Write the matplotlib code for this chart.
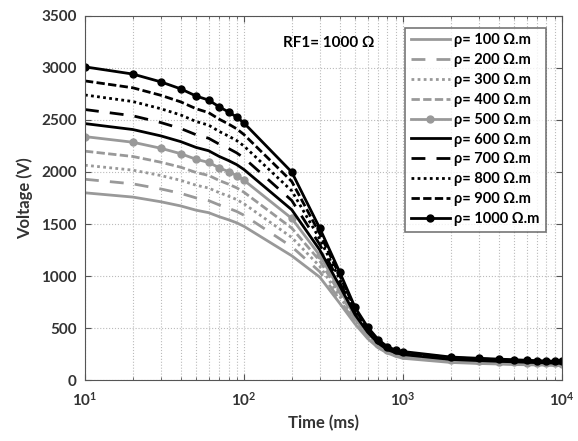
import matplotlib
matplotlib.use("Agg")
import matplotlib.pyplot as plt
from matplotlib.ticker import LogLocator, NullFormatter

plt.rcParams['font.family'] = ['Lato', 'DejaVu Sans']

time_ms = [10, 20, 30, 40, 50, 60, 70, 80, 90, 100,
           200, 300, 400, 500, 600, 700, 800, 900, 1000,
           2000, 3000, 4000, 5000, 6000, 7000, 8000, 9000, 10000]

rho_labels = ['ρ= 100 Ω.m', 'ρ= 200 Ω.m', 'ρ= 300 Ω.m', 'ρ= 400 Ω.m', 'ρ= 500 Ω.m',
              'ρ= 600 Ω.m', 'ρ= 700 Ω.m', 'ρ= 800 Ω.m', 'ρ= 900 Ω.m', 'ρ= 1000 Ω.m']

v100 = [1800, 1759, 1714, 1674, 1633, 1609, 1570, 1541, 1512, 1478, 1195,
        990, 740, 540, 400, 310, 260, 230, 210, 170, 160, 155, 150, 148, 146, 144, 142, 140]
v200 = [1930, 1886, 1837, 1795, 1751, 1725, 1683, 1652, 1621, 1585, 1282,
        1042, 773, 558, 412, 319, 267, 237, 217, 176, 166, 160, 155, 153, 151, 148, 146, 144]
v300 = [2065, 2018, 1966, 1920, 1873, 1846, 1801, 1768, 1735, 1695, 1371,
        1094, 807, 576, 424, 328, 273, 243, 224, 182, 171, 165, 160, 158, 155, 153, 151, 149]
v400 = [2200, 2149, 2094, 2046, 1995, 1967, 1918, 1883, 1848, 1806, 1461,
        1147, 840, 593, 437, 337, 280, 250, 232, 187, 177, 171, 165, 162, 160, 157, 155, 153]
v500 = [2340, 2286, 2228, 2176, 2122, 2092, 2040, 2003, 1966, 1921, 1554,
        1199, 873, 611, 449, 346, 287, 257, 239, 193, 182, 176, 170, 167, 164, 162, 160, 158]
v600 = [2465, 2408, 2347, 2292, 2236, 2204, 2149, 2110, 2071, 2024, 1637,
        1251, 907, 629, 461, 354, 293, 263, 246, 199, 188, 181, 176, 172, 169, 166, 164, 162]
v700 = [2600, 2540, 2475, 2418, 2358, 2324, 2267, 2226, 2184, 2135, 1726,
        1303, 940, 647, 473, 363, 300, 270, 253, 205, 193, 186, 181, 177, 173, 171, 169, 167]
v800 = [2740, 2677, 2608, 2548, 2485, 2450, 2389, 2345, 2302, 2250, 1819,
        1356, 973, 664, 486, 372, 307, 277, 260, 210, 199, 192, 186, 181, 178, 175, 173, 171]
v900 = [2875, 2809, 2737, 2674, 2608, 2570, 2507, 2461, 2415, 2360, 1909,
        1408, 1007, 682, 498, 381, 313, 283, 268, 216, 204, 197, 191, 186, 182, 180, 178, 176]
v1000 = [3010, 2941, 2866, 2799, 2730, 2691, 2625, 2577, 2528, 2471, 1999,
         1460, 1040, 700, 510, 390, 320, 290, 275, 222, 210, 202, 196, 191, 187, 184, 182, 180]

series = [v100, v200, v300, v400, v500, v600, v700, v800, v900, v1000]

gray = '#999999'
black = '#000000'
styles = [
    dict(color=gray, ls='-'),
    dict(color=gray, ls=(0, (5, 4))),
    dict(color=gray, ls=(0, (1, 1.2))),
    dict(color=gray, ls=(0, (3, 1.2))),
    dict(color=gray, ls='-', marker='o', ms=5),
    dict(color=black, ls='-'),
    dict(color=black, ls=(0, (5, 4))),
    dict(color=black, ls=(0, (1, 1.2))),
    dict(color=black, ls=(0, (3, 1.2))),
    dict(color=black, ls='-', marker='o', ms=5),
]

fig = plt.figure(figsize=(5.78, 4.41), dpi=100)
ax = fig.add_axes([0.147, 0.138, 0.825, 0.826])

for vals, lab, st in zip(series, rho_labels, styles):
    ax.plot(time_ms, vals, lw=2, label=lab, **st)

ax.set_xscale('log')
ax.set_xlim(10, 10000)
ax.set_ylim(0, 3500)
ax.set_yticks([0, 500, 1000, 1500, 2000, 2500, 3000, 3500])
ax.xaxis.set_minor_locator(LogLocator(base=10, subs=range(2, 10)))
ax.xaxis.set_minor_formatter(NullFormatter())

ax.grid(True, which='major', ls=':', color='#bbbbbb', lw=0.8)
ax.grid(True, which='minor', axis='x', ls=':', color='#bbbbbb', lw=0.8)

ax.tick_params(which='both', direction='in', top=True, right=True, color='#555555')
ax.tick_params(which='major', length=4, labelsize=11)
ax.tick_params(which='minor', length=2)
ax.tick_params(axis='y', pad=6)
ax.tick_params(axis='x', pad=8)
for lbl in ax.get_xticklabels() + ax.get_yticklabels():
    lbl.set_fontweight('bold')
    lbl.set_color('#333333')
for sp in ax.spines.values():
    sp.set_color('#555555')

ax.set_xlabel('Time (ms)', fontweight='bold', fontsize=12, color='#333333', labelpad=4)
ax.set_ylabel('Voltage (V)', fontweight='bold', fontsize=12, color='#333333', labelpad=6)

ax.text(0.415, 0.925, 'RF1= 1000 Ω', transform=ax.transAxes, fontweight='bold',
        fontsize=11, va='center', ha='left')

leg = ax.legend(loc='upper right', bbox_to_anchor=(0.966, 0.968),
                prop={'weight': 'bold', 'size': 10.5}, frameon=True, fancybox=False,
                edgecolor='#555555', handlelength=2.7, labelspacing=0.4,
                borderpad=0.4, handletextpad=0.3, borderaxespad=0.0)
leg.get_frame().set_linewidth(1.2)

fig.savefig('out.png', dpi=100)
